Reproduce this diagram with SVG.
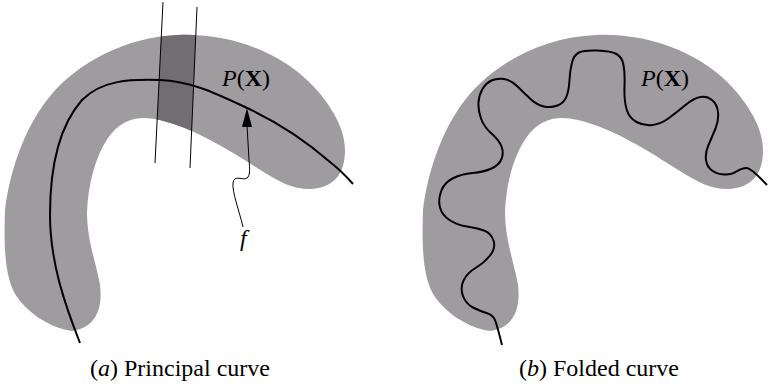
<svg xmlns="http://www.w3.org/2000/svg" xmlns:xlink="http://www.w3.org/1999/xlink" width="768" height="386" viewBox="0 0 768 386">
  <style>
    .blob { fill: #9e9c9f; stroke: none; }
    .dark { fill: #706e72; stroke: none; }
    .curve { fill: none; stroke: #000; stroke-width: 2; stroke-linecap: butt; stroke-linejoin: round; }
    .thin { fill: none; stroke: #000; stroke-width: 1; }
    text { font-family: 'Liberation Serif', 'Times New Roman', serif; font-size: 24px; fill: #000; }
  </style>
  <defs>
    <path id="blobShape" d="M 72,331 C 50,328 25,312 14,292 C 4,272 4,240 5,210 C 10,168 27,123 51,95 C 78,63 125,37 178,35 C 235,33 285,55 315,88 C 333,108 345,130 345,150 C 345,175 333,188 310,189 C 292,189 280,182 262,171 C 230,151 197,129 160,120 C 140,115 122,118 108,138 C 95,157 88,185 87,212 C 87,240 96,262 100,285 C 103,310 95,328 72,331 Z"/>
    <clipPath id="clipA">
      <use xlink:href="#blobShape"/>
    </clipPath>
  </defs>

  <g id="panel-a">
    <g id="region-a">
      <use xlink:href="#blobShape" class="blob"/>
      <polygon class="dark" points="163,2 197,7 190,168 155,163" clip-path="url(#clipA)"/>
    </g>
    <g id="slice-lines">
      <line class="thin" x1="163" y1="2" x2="155" y2="163"/>
      <line class="thin" x1="197" y1="7" x2="190" y2="168"/>
    </g>
    <g id="principal-curve">
      <path class="curve" d="M 80,343 C 65,305 50,262 50,215 C 50,165 60,125 82,100 C 102,80 130,79 160,80 C 190,81 215,93 245,107 C 280,123 305,140 330,162 C 340,170 347,177 353,184"/>
    </g>
    <g id="label-PX-a">
      <text x="222" y="86"><tspan font-style="italic">P</tspan>(<tspan font-weight="bold">X</tspan>)</text>
    </g>
    <g id="label-f">
      <text x="240" y="246" font-style="italic">f</text>
    </g>
    <g id="caption-a">
      <text x="90" y="376">(<tspan font-style="italic">a</tspan>) Principal curve</text>
    </g>
  </g>

  <g id="connectors">
    <path class="thin" d="M 243,227 C 239,210 232,192 233,183 C 234,174 243,181 247,178 C 250,176 250,170 249,160 L 247,125"/>
    <polygon points="247,108 242,127 252,127" fill="#000"/>
  </g>

  <g id="panel-b">
    <g id="region-b">
      <use xlink:href="#blobShape" class="blob" transform="translate(418,0)"/>
    </g>
    <g id="folded-curve">
      <path class="curve" d="M 502,345 Q 497,325 495,320 Q 493,315 486.5,313 Q 480,311 473,307.5 Q 466,304 463,296 Q 460,288 463.5,280.5 Q 467,273 475.5,268 Q 484,263 490,255.5 Q 496,248 493.5,240.5 Q 491,233 484,230.5 Q 477,228 467,226.5 Q 457,225 449.5,220 Q 442,215 440,207.5 Q 438,200 441,191.5 Q 444,183 452.5,178.5 Q 461,174 472.5,173 Q 484,172 491.5,168.5 Q 499,165 501.5,159 Q 504,153 501.5,146.5 Q 499,140 491.5,133.5 Q 484,127 481,118.5 Q 478,110 478.5,102.5 Q 479,95 482.5,89 Q 486,83 491.5,80.5 Q 497,78 504,79 Q 511,80 517.5,86.5 Q 524,93 530.5,99 Q 537,105 544,106.5 Q 551,108 557.5,105.5 Q 564,103 566.5,96.5 Q 569,90 569.5,80 Q 570,70 572,62.5 Q 574,55 579,52.5 Q 584,50 597.5,50.5 Q 611,51 616.5,54 Q 622,57 623.5,65 Q 625,73 624.5,86.5 Q 624,100 626.5,109 Q 629,118 636.5,122 Q 644,126 652.5,125 Q 661,124 669,118 Q 677,112 685.5,105 Q 694,98 700.5,97 Q 707,96 712,100 Q 717,104 718,112 Q 719,120 715.5,128.5 Q 712,137 708.5,145 Q 705,153 706,160 Q 707,167 712,170.5 Q 717,174 724,174.5 Q 731,175 736.5,171.5 Q 742,168 746.5,168 Q 751,168 767,185"/>
    </g>
    <g id="label-PX-b">
      <text x="641" y="86"><tspan font-style="italic">P</tspan>(<tspan font-weight="bold">X</tspan>)</text>
    </g>
    <g id="caption-b">
      <text x="519" y="376">(<tspan font-style="italic">b</tspan>) Folded curve</text>
    </g>
  </g>
</svg>
